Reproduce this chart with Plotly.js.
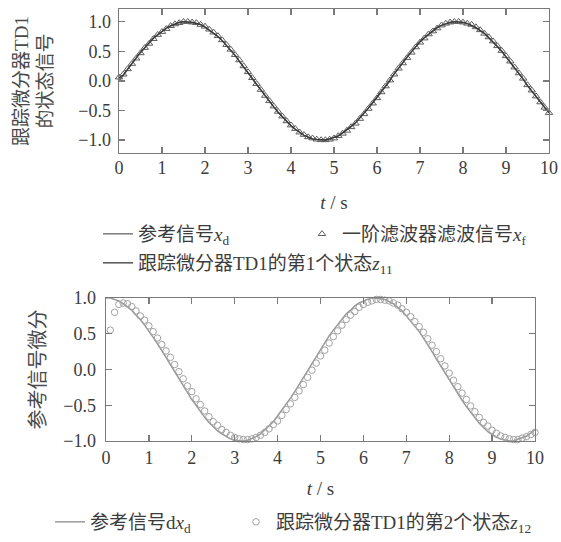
<!DOCTYPE html>
<html>
<head>
<meta charset="utf-8">
<script src="https://cdn.plot.ly/plotly-3.0.1.min.js"></script>
<style>
  html, body { margin: 0; padding: 0; background: #fff; }
  #chart { width: 561px; height: 542px; }
</style>
</head>
<body>
<div id="chart"></div>
<script>
// time grid (s)
var T = [0,0.1,0.2,0.3,0.4,0.5,0.6,0.7,0.8,0.9,
  1,1.1,1.2,1.3,1.4,1.5,1.6,1.7,1.8,1.9,
  2,2.1,2.2,2.3,2.4,2.5,2.6,2.7,2.8,2.9,
  3,3.1,3.2,3.3,3.4,3.5,3.6,3.7,3.8,3.9,
  4,4.1,4.2,4.3,4.4,4.5,4.6,4.7,4.8,4.9,
  5,5.1,5.2,5.3,5.4,5.5,5.6,5.7,5.8,5.9,
  6,6.1,6.2,6.3,6.4,6.5,6.6,6.7,6.8,6.9,
  7,7.1,7.2,7.3,7.4,7.5,7.6,7.7,7.8,7.9,
  8,8.1,8.2,8.3,8.4,8.5,8.6,8.7,8.8,8.9,
  9,9.1,9.2,9.3,9.4,9.5,9.6,9.7,9.8,9.9,10];

// top panel: reference signal x_d
var xd = [0.00,0.10,0.20,0.30,0.39,0.48,0.56,0.64,0.72,0.78,
  0.84,0.89,0.93,0.96,0.99,1.00,1.00,0.99,0.97,0.95,
  0.91,0.86,0.81,0.75,0.68,0.60,0.52,0.43,0.33,0.24,
  0.14,0.04,-0.06,-0.16,-0.26,-0.35,-0.44,-0.53,-0.61,-0.69,
  -0.76,-0.82,-0.87,-0.92,-0.95,-0.98,-0.99,-1.00,-1.00,-0.98,
  -0.96,-0.93,-0.88,-0.83,-0.77,-0.71,-0.63,-0.55,-0.46,-0.37,
  -0.28,-0.18,-0.08,0.02,0.12,0.22,0.31,0.40,0.49,0.58,
  0.66,0.73,0.79,0.85,0.90,0.94,0.97,0.99,1.00,1.00,
  0.99,0.97,0.94,0.90,0.85,0.80,0.73,0.66,0.58,0.50,
  0.41,0.32,0.22,0.12,0.03,-0.08,-0.17,-0.27,-0.37,-0.46,
  -0.54];

// top panel: first-order filter output x_f (triangles)
var xf = [0.06,0.11,0.20,0.29,0.38,0.47,0.56,0.63,0.71,0.78,
  0.83,0.88,0.93,0.96,0.98,1.00,1.00,0.99,0.98,0.95,
  0.92,0.87,0.82,0.76,0.69,0.61,0.53,0.44,0.35,0.25,
  0.15,0.05,-0.05,-0.15,-0.25,-0.34,-0.43,-0.52,-0.60,-0.68,
  -0.75,-0.81,-0.87,-0.91,-0.95,-0.97,-0.99,-1.00,-1.00,-0.99,
  -0.97,-0.93,-0.89,-0.84,-0.78,-0.72,-0.64,-0.56,-0.47,-0.38,
  -0.29,-0.19,-0.09,0.01,0.11,0.21,0.30,0.39,0.48,0.57,
  0.65,0.72,0.79,0.84,0.89,0.94,0.97,0.99,1.00,1.00,
  0.99,0.97,0.95,0.91,0.86,0.80,0.74,0.67,0.59,0.51,
  0.42,0.33,0.23,0.13,0.04,-0.07,-0.16,-0.26,-0.36,-0.45,
  -0.54];

// top panel: TD1 first state z11
var z11 = [0.05,0.10,0.20,0.30,0.39,0.48,0.56,0.64,0.72,0.78,
  0.84,0.89,0.93,0.96,0.99,1.00,1.00,0.99,0.97,0.95,
  0.91,0.86,0.81,0.75,0.68,0.60,0.52,0.43,0.33,0.24,
  0.14,0.04,-0.06,-0.16,-0.26,-0.35,-0.44,-0.53,-0.61,-0.69,
  -0.76,-0.82,-0.87,-0.92,-0.95,-0.98,-0.99,-1.00,-1.00,-0.98,
  -0.96,-0.93,-0.88,-0.83,-0.77,-0.71,-0.63,-0.55,-0.46,-0.37,
  -0.28,-0.18,-0.10,0.00,0.12,0.22,0.31,0.40,0.49,0.58,
  0.66,0.73,0.79,0.85,0.90,0.94,0.97,0.99,1.00,1.00,
  0.99,0.97,0.94,0.90,0.85,0.80,0.73,0.66,0.58,0.50,
  0.41,0.32,0.22,0.12,0.03,-0.08,-0.17,-0.27,-0.37,-0.46,
  -0.54];

// bottom panel: reference derivative dx_d
var dxd = [1.00,1.00,0.98,0.96,0.92,0.88,0.83,0.76,0.70,0.62,
  0.54,0.45,0.36,0.27,0.17,0.07,-0.03,-0.13,-0.23,-0.32,
  -0.42,-0.50,-0.59,-0.67,-0.74,-0.80,-0.86,-0.90,-0.94,-0.97,
  -0.99,-1.00,-1.00,-0.99,-0.97,-0.94,-0.90,-0.85,-0.79,-0.73,
  -0.65,-0.57,-0.49,-0.40,-0.31,-0.21,-0.11,-0.01,0.09,0.19,
  0.28,0.38,0.47,0.55,0.63,0.71,0.78,0.83,0.89,0.93,
  0.96,0.98,1.00,1.00,0.99,0.98,0.95,0.92,0.87,0.82,
  0.75,0.68,0.61,0.53,0.44,0.35,0.25,0.15,0.05,-0.05,
  -0.15,-0.24,-0.34,-0.43,-0.52,-0.60,-0.68,-0.75,-0.81,-0.87,
  -0.91,-0.95,-0.97,-0.99,-1.00,-1.00,-0.98,-0.96,-0.93,-0.89,
  -0.84];

// bottom panel: TD1 second state z12 (circles), t = 0.1 ... 10
var Tz12 = T.slice(1);
var z12 = [0.55,0.80,0.91,0.93,0.92,0.88,0.82,0.75,0.69,0.61,
  0.53,0.44,0.35,0.26,0.17,0.07,-0.03,-0.13,-0.23,-0.31,
  -0.41,-0.49,-0.58,-0.66,-0.73,-0.78,-0.84,-0.88,-0.92,-0.95,
  -0.97,-0.98,-0.98,-0.97,-0.95,-0.92,-0.88,-0.83,-0.77,-0.72,
  -0.64,-0.56,-0.48,-0.39,-0.30,-0.21,-0.11,-0.01,0.09,0.19,
  0.27,0.37,0.46,0.54,0.62,0.70,0.76,0.81,0.87,0.91,
  0.94,0.96,0.98,0.98,0.97,0.96,0.93,0.90,0.85,0.80,
  0.74,0.67,0.60,0.52,0.43,0.34,0.25,0.15,0.05,-0.05,
  -0.15,-0.24,-0.33,-0.42,-0.51,-0.59,-0.67,-0.74,-0.79,-0.85,
  -0.89,-0.93,-0.95,-0.97,-0.98,-0.98,-0.96,-0.94,-0.91,-0.88];

var xTicks = [0,1,2,3,4,5,6,7,8,9,10];
var yTicks = [-1.0,-0.5,0.0,0.5,1.0];

var FONT = 'Liberation Serif, "Times New Roman", "Noto Sans CJK SC", serif';
var CJK = 'Liberation Serif, "Noto Sans CJK SC", serif';
var TXT = '#3c3c3c';
var AX = '#7a7a7a';

var traces = [
  {x: T, y: xd, type: 'scatter', mode: 'lines', xaxis: 'x', yaxis: 'y',
   name: '参考信号<i>x</i><sub>d</sub>', legend: 'legend',
   line: {color: '#666666', width: 1.3}},
  {x: T, y: xf, type: 'scatter', mode: 'markers', xaxis: 'x', yaxis: 'y',
   name: '一阶滤波器滤波信号<i>x</i><sub>f</sub>', legend: 'legend2', cliponaxis: false,
   marker: {symbol: 'triangle-up-open', size: 6.5, color: '#5e5e5e', line: {width: 1, color: '#5e5e5e'}}},
  {x: T, y: z11, type: 'scatter', mode: 'lines', xaxis: 'x', yaxis: 'y',
   name: '跟踪微分器TD1的第1个状态<i>z</i><sub>11</sub>', legend: 'legend3',
   line: {color: '#383838', width: 1.3}},
  {x: T, y: dxd, type: 'scatter', mode: 'lines', xaxis: 'x2', yaxis: 'y2',
   name: '参考信号d<i>x</i><sub>d</sub>', legend: 'legend4',
   line: {color: '#9a9a9a', width: 1.5}},
  {x: Tz12, y: z12, type: 'scatter', mode: 'markers', xaxis: 'x2', yaxis: 'y2',
   name: '跟踪微分器TD1的第2个状态<i>z</i><sub>12</sub>', legend: 'legend5', cliponaxis: false,
   marker: {symbol: 'circle-open', size: 6.5, color: '#a2a2a2', line: {width: 1, color: '#a2a2a2'}}}
];

function axisBase() {
  return {
    showline: true, linecolor: AX, linewidth: 1.4, mirror: 'ticks',
    ticks: 'inside', ticklen: 6, tickwidth: 1.3, tickcolor: AX,
    showgrid: false, zeroline: false, fixedrange: true,
    tickfont: {family: FONT, size: 18, color: TXT}
  };
}

var xa1 = Object.assign(axisBase(), {domain: [119/561, 549/561], anchor: 'y', range: [0, 10],
  tickvals: xTicks, ticklabelstandoff: -2,
  title: {text: '<i>t</i> / s', font: {family: FONT, size: 19, color: TXT}, standoff: 18}});
var ya1 = Object.assign(axisBase(), {domain: [1 - 153/542, 1 - 9/542], anchor: 'x', range: [-1.22, 1.215],
  tickvals: yTicks, tickformat: '.1f', ticklabelstandoff: 3,
  title: {text: '跟踪微分器TD1<br>的状态信号', font: {family: CJK, size: 19, color: '#4a4a4a'}, standoff: 20}});
var xa2 = Object.assign(axisBase(), {domain: [106/561, 535/561], anchor: 'y2', range: [0, 10],
  tickvals: xTicks, ticklabelstandoff: 0,
  title: {text: '<i>t</i> / s', font: {family: FONT, size: 19, color: TXT}, standoff: 14}});
var ya2 = Object.assign(axisBase(), {domain: [1 - 441/542, 1 - 298/542], anchor: 'x2', range: [-1, 1],
  tickvals: yTicks, tickformat: '.1f', ticklabelstandoff: 5,
  title: {text: '参考信号微分', font: {family: CJK, size: 20, color: '#4a4a4a'}, standoff: 12}});

function leg(x, y) {
  return {x: x, y: y, xanchor: 'left', yanchor: 'middle', orientation: 'h',
    bgcolor: 'rgba(0,0,0,0)', borderwidth: 0, itemwidth: 30,
    font: {family: CJK, size: 19, color: TXT}};
}

var layout = {
  width: 561, height: 542,
  margin: {l: 0, r: 0, t: 0, b: 0},
  paper_bgcolor: '#ffffff', plot_bgcolor: '#ffffff',
  showlegend: true,
  xaxis: xa1, yaxis: ya1, xaxis2: xa2, yaxis2: ya2,
  legend: leg(98/561, 1 - 234/542),
  legend2: leg(302/561, 1 - 234/542),
  legend3: leg(98/561, 1 - 263/542),
  legend4: leg(50/561, 1 - 522/542),
  legend5: leg(236/561, 1 - 522/542)
};

Plotly.newPlot('chart', traces, layout, {displayModeBar: false, staticPlot: true});
</script>
</body>
</html>
